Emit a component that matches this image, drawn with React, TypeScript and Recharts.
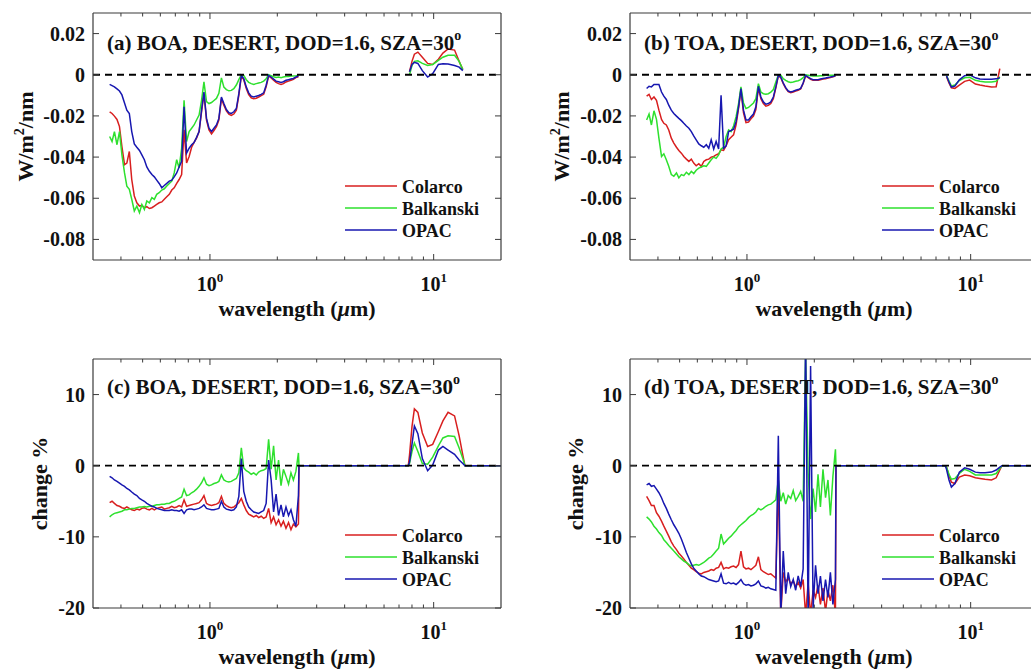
import { LineChart, Line, XAxis, YAxis, ReferenceLine, Legend } from "recharts";

const FONT = '"Liberation Serif", "Times New Roman", serif';
const AXIS_COLOR = "#3a3a3a";
const TEXT_COLOR = "#111";

// wavelength grid of the solar band (µm)
const WL_SOLAR = [
  0.356, 0.365, 0.374, 0.384, 0.394, 0.404, 0.415, 0.425, 0.436, 0.447,
  0.459, 0.471, 0.484, 0.496, 0.509, 0.522, 0.536, 0.55, 0.564, 0.578,
  0.593, 0.609, 0.625, 0.641, 0.658, 0.675, 0.692, 0.71, 0.728, 0.747,
  0.766, 0.786, 0.807, 0.828, 0.849, 0.871, 0.894, 0.917, 0.94, 0.965,
  0.99, 1.016, 1.042, 1.069, 1.096, 1.125, 1.154, 1.184, 1.215, 1.246,
  1.278, 1.312, 1.346, 1.381, 1.416, 1.453, 1.49, 1.529, 1.569, 1.61,
  1.651, 1.694, 1.738, 1.783, 1.829, 1.877, 1.925, 1.975, 2.026, 2.078,
  2.13, 2.187, 2.245, 2.302, 2.36, 2.422, 2.486,
];
// thermal window (µm)
const WL_IR = [7.8, 8.0, 8.2, 8.5, 8.9, 9.4, 9.9, 10.5, 11.0, 11.6, 12.4, 13.0, 13.5];
// change % panels sit on zero outside the two bands
const WL_FLAT = [2.5, 7.7, 13.8, 20];
const FLAT_ZERO = [0, 0, 0, 0];
// break between the bands in the flux panels
const WL_BREAK = 5;

// (a) BOA flux, W/m2/nm
const A_COLARCO = [
  -0.018, -0.0188, -0.0201, -0.0217, -0.0252, -0.0349, -0.0437, -0.0429, -0.0373, -0.0509,
  -0.0589, -0.0622, -0.0638, -0.0634, -0.0646, -0.0641, -0.065, -0.0646, -0.0638, -0.063,
  -0.0622, -0.0618, -0.0605, -0.0593, -0.0581, -0.056, -0.0549, -0.0528, -0.0509, -0.0485,
  -0.0268, -0.0429, -0.0397, -0.0352, -0.0329, -0.0308, -0.0276, -0.018, -0.0092, -0.022,
  -0.0268, -0.0287, -0.0271, -0.0252, -0.022, -0.0116, -0.0148, -0.0175, -0.0191, -0.0198,
  -0.0191, -0.0172, -0.01, -0.0006, -0.0024, -0.0067, -0.0096, -0.0112, -0.0117, -0.0114,
  -0.0108, -0.0101, -0.0095, -0.0059, -0.0006, -0.0016, -0.0027, -0.0037, -0.0043, -0.0047,
  -0.0043, -0.0035, -0.0031, -0.0027, -0.0022, -0.0014, -0.001,
];
const A_BALKANSKI = [
  -0.03, -0.0324, -0.0276, -0.034, -0.0276, -0.0389, -0.0477, -0.0541, -0.0557, -0.0605,
  -0.0662, -0.0638, -0.067, -0.063, -0.0654, -0.0613, -0.0622, -0.0597, -0.0605, -0.0581,
  -0.0573, -0.056, -0.0554, -0.0541, -0.0528, -0.0517, -0.0477, -0.0413, -0.0453, -0.0357,
  -0.0124, -0.0324, -0.0276, -0.026, -0.0244, -0.022, -0.0196, -0.0124, -0.0035, -0.013,
  -0.014, -0.0135, -0.0125, -0.0115, -0.009, -0.0015, -0.006, -0.0072, -0.0078, -0.0076,
  -0.0068, -0.005, -0.0024, 0, -0.0003, -0.0024, -0.0037, -0.0043, -0.0047, -0.0043,
  -0.004, -0.0037, -0.0031, -0.0019, 0, -0.0005, -0.001, -0.0013, -0.0011, -0.0014,
  -0.0011, -0.0008, -0.0008, -0.0006, -0.0006, -0.0005, -0.0003,
];
const A_OPAC = [
  -0.0047, -0.0053, -0.0059, -0.0069, -0.0079, -0.0098, -0.0137, -0.0172, -0.0188, -0.0276,
  -0.0336, -0.0352, -0.0368, -0.0389, -0.0413, -0.0448, -0.0469, -0.0485, -0.0496, -0.0512,
  -0.0528, -0.0549, -0.0538, -0.0528, -0.0517, -0.0512, -0.0496, -0.0477, -0.0448, -0.0421,
  -0.0156, -0.0381, -0.0357, -0.034, -0.0329, -0.0304, -0.0276, -0.0172, -0.0084, -0.0212,
  -0.026, -0.0276, -0.026, -0.0244, -0.0212, -0.0108, -0.014, -0.0169, -0.0185, -0.0188,
  -0.018, -0.0164, -0.0092, -0.0003, -0.0019, -0.0059, -0.0088, -0.0104, -0.0108, -0.0104,
  -0.0101, -0.0095, -0.0088, -0.0051, -0.0003, -0.0011, -0.0021, -0.0031, -0.0034, -0.0037,
  -0.0034, -0.0027, -0.0024, -0.0021, -0.0018, -0.0011, -0.0006,
];
const A_COLARCO_IR = [0.0015, 0.0065, 0.01, 0.011, 0.0085, 0.0055, 0.005, 0.0075, 0.0105, 0.0125, 0.012, 0.0065, 0.0025];
const A_BALKANSKI_IR = [0, 0.0045, 0.0065, 0.0068, 0.0055, 0.0045, 0.005, 0.007, 0.0085, 0.0095, 0.0095, 0.0065, 0.0025];
const A_OPAC_IR = [0.0015, 0.005, 0.006, 0.0055, 0.002, -0.0011, 0.0005, 0.005, 0.0053, 0.0052, 0.0045, 0.0037, 0.002];

// (b) TOA flux, W/m2/nm
const B_COLARCO = [
  -0.0104, -0.0095, -0.012, -0.0108, -0.0124, -0.0172, -0.0217, -0.0236, -0.0244, -0.0268,
  -0.0308, -0.0332, -0.0352, -0.0368, -0.0381, -0.0397, -0.041, -0.0421, -0.041, -0.0429,
  -0.0442, -0.0432, -0.0445, -0.0421, -0.0413, -0.041, -0.04, -0.0397, -0.0389, -0.0384,
  -0.0365, -0.0368, -0.0345, -0.0316, -0.0304, -0.0292, -0.0244, -0.0164, -0.0075, -0.0185,
  -0.0233, -0.023, -0.0214, -0.0201, -0.0169, -0.0063, -0.0116, -0.014, -0.0153, -0.0149,
  -0.014, -0.0116, -0.0063, -0.0005, -0.0014, -0.0043, -0.0066, -0.0082, -0.0087, -0.0084,
  -0.0079, -0.0075, -0.0069, -0.0043, -0.0005, -0.0014, -0.0022, -0.0027, -0.0027, -0.0027,
  -0.0024, -0.0021, -0.0019, -0.0016, -0.0013, -0.001, -0.0006,
];
const B_BALKANSKI = [
  -0.022, -0.0191, -0.0244, -0.0175, -0.0217, -0.0308, -0.0397, -0.0384, -0.0413, -0.0445,
  -0.0485, -0.0493, -0.0477, -0.0501, -0.0485, -0.049, -0.0474, -0.0485, -0.0469, -0.048,
  -0.0464, -0.0454, -0.0448, -0.0442, -0.0445, -0.0429, -0.0413, -0.04, -0.0406, -0.0389,
  -0.0361, -0.0352, -0.03, -0.0268, -0.0276, -0.0249, -0.0204, -0.014, -0.0059, -0.0137,
  -0.0164, -0.0159, -0.0148, -0.0137, -0.0116, -0.0043, -0.0084, -0.0092, -0.0095, -0.0092,
  -0.0085, -0.0072, -0.0035, 0, -0.0002, -0.0019, -0.0027, -0.0034, -0.0037, -0.0035,
  -0.0032, -0.0029, -0.0024, -0.0014, 0, -0.0002, -0.0005, -0.0006, -0.0006, -0.0006,
  -0.0005, -0.0005, -0.0003, -0.0003, -0.0003, -0.0002, -0.0002,
];
const B_OPAC = [
  -0.0067, -0.0056, -0.0059, -0.0047, -0.0047, -0.0047, -0.0084, -0.0104, -0.012, -0.0148,
  -0.0172, -0.0188, -0.0201, -0.0212, -0.0223, -0.0236, -0.0249, -0.026, -0.0276, -0.0297,
  -0.0316, -0.0336, -0.0345, -0.0352, -0.034, -0.0357, -0.0316, -0.0361, -0.0324, -0.0361,
  -0.01, -0.0357, -0.0345, -0.0276, -0.0271, -0.0265, -0.0228, -0.0156, -0.0067, -0.0172,
  -0.022, -0.022, -0.0204, -0.0191, -0.0156, -0.0056, -0.0108, -0.0132, -0.0143, -0.014,
  -0.0132, -0.0108, -0.0059, -0.0003, -0.0011, -0.004, -0.0063, -0.0079, -0.0084, -0.008,
  -0.0075, -0.0072, -0.0066, -0.004, -0.0003, -0.0011, -0.0019, -0.0024, -0.0024, -0.0024,
  -0.0021, -0.0018, -0.0016, -0.0013, -0.0011, -0.0008, -0.0005,
];
const B_COLARCO_IR = [-0.001, -0.004, -0.0063, -0.0066, -0.005, -0.0032, -0.0026, -0.0045, -0.005, -0.0055, -0.006, -0.0058, 0.003];
const B_BALKANSKI_IR = [-0.0005, -0.003, -0.0055, -0.005, -0.0028, -0.0015, -0.0012, -0.0027, -0.0032, -0.0035, -0.0035, -0.0032, -0.001];
const B_OPAC_IR = [-0.0005, -0.0035, -0.006, -0.0055, -0.0025, -0.0005, 0, -0.0015, -0.0021, -0.0022, -0.0022, -0.002, -0.0015];

// (c) BOA change, %
const C_COLARCO = [
  -5.2, -5.0, -5.3, -5.6, -5.7, -5.9, -6.0, -5.8, -6.0, -6.2,
  -6.3, -6.1, -6.2, -6.0, -5.9, -6.1, -6.2, -6.0, -6.2, -6.0,
  -5.9, -5.8, -6.1, -6.0, -5.9, -5.7, -5.9, -5.8, -5.6, -5.8,
  -4.8, -5.7, -5.6, -5.5, -5.4, -5.3, -5.2, -4.8, -4.2, -5.3,
  -5.5, -5.6, -5.5, -5.4, -5.2, -4.3, -5.3, -5.6, -5.8, -5.9,
  -5.8, -5.5, -5.2, -4.6, -5.5, -6.3, -6.8, -7.0, -7.2, -7.0,
  -7.3, -7.1, -7.4, -7.2, -6.0, -8.0, -7.2, -8.3, -7.6, -8.5,
  -7.8, -8.8, -8.0, -9.0, -8.2, -8.6, -8.2,
];
const C_BALKANSKI = [
  -7.2, -6.9, -6.7, -6.6, -6.5, -6.4, -6.2, -6.2, -6.1, -6.0,
  -6.0, -5.9, -5.8, -5.8, -5.75, -5.8, -5.7, -5.7, -5.6, -5.5,
  -5.5, -5.4, -5.4, -5.3, -5.3, -5.1, -5.0, -4.8, -4.6, -4.4,
  -3.3, -4.2, -4.1, -3.8, -3.6, -3.3, -2.9, -2.4, -1.7, -2.6,
  -2.8, -2.7, -2.5, -2.4, -2.2, -1.3, -2.0, -2.2, -2.3, -2.2,
  -2.0, -1.8, -1.0, 2.5, -0.3, -0.7, -0.9, -1.2, -1.0, -1.3,
  -0.9, -0.7, -0.6, -0.4, 3.7, -0.5, 2.8, -2.0, 0.8, -2.8,
  -0.5, -1.5, -2.6, -1.0, -2.0, -0.8, 1.8,
];
const C_OPAC = [
  -1.5, -1.7, -2.0, -2.2, -2.45, -2.7, -2.9, -3.2, -3.4, -3.7,
  -4.0, -4.2, -4.6, -4.8, -5.0, -5.3, -5.5, -5.7, -5.8, -6.0,
  -6.1, -6.2, -6.3, -6.3, -6.3, -6.2, -6.3, -6.3, -6.4, -6.2,
  -6.7, -6.2, -6.1, -6.1, -6.2, -6.1, -6.0, -5.8, -5.5, -6.0,
  -6.1, -6.2, -6.2, -6.1, -6.0, -5.0, -5.8, -6.1, -6.2, -6.3,
  -6.2, -5.8, -4.3, 1.0, -3.6, -5.0, -5.8, -6.2, -6.5, -6.6,
  -6.7, -6.5, -6.3, -5.3, 0.8, -2.0, -6.5, -4.0, -7.0, -5.5,
  -7.2, -5.8, -7.0, -6.2, -7.6, -8.5, -4.2,
];
const C_COLARCO_IR = [1.5, 5.5, 8.0, 7.5, 4.6, 2.7, 3.0, 4.8, 6.3, 7.5, 7.0, 4.2, 1.5];
const C_BALKANSKI_IR = [0.3, 2.0, 3.2, 2.0, 0.3, 0.2, 1.2, 2.8, 3.9, 4.2, 4.1, 2.5, 1.0];
const C_OPAC_IR = [0.5, 3.0, 5.6, 4.5, 1.0, -0.7, 0.1, 2.2, 2.7, 2.2, 1.6, 0.8, 0.3];

// (d) TOA change, %
const D_COLARCO = [
  -4.3, -4.9, -5.6, -5.6, -6.6, -7.1, -7.8, -8.5, -9.2, -9.9,
  -10.7, -11.3, -11.8, -12.3, -12.7, -13.1, -13.6, -14.0, -14.4, -14.6,
  -14.9, -15.1, -15.2, -15.0, -14.9, -14.8, -14.6, -14.7, -14.4, -14.3,
  -13.6, -14.5, -14.3, -14.4, -14.2, -14.1, -14.3, -13.9, -12.0, -14.2,
  -14.5, -14.4, -14.6, -14.3, -14.0, -12.8, -14.6, -14.9, -15.1, -15.3,
  -15.2, -15.5, -15.8, -2.0, -21.0, -15.0, -16.3, -15.8, -16.6, -16.2,
  -17.0, -16.4, -17.2, -16.0, -21.0, -16.5, -21.0, -17.5, -18.5, -16.8,
  -19.5, -17.2, -20.5, -17.5, -19.0, -16.8, -21.0,
];
const D_BALKANSKI = [
  -7.2, -7.5, -7.9, -8.5, -8.9, -9.4, -9.8, -10.4, -10.8, -11.2,
  -11.6, -12.0, -12.4, -12.8, -13.1, -13.4, -13.6, -13.9, -14.1, -14.0,
  -13.9, -14.0, -13.8, -13.6, -13.3, -13.0, -12.8, -12.4, -12.0, -11.6,
  -9.6, -11.0, -10.6, -10.2, -9.9, -9.5, -9.1, -8.6, -8.3, -8.0,
  -7.7, -7.3, -7.0, -6.8, -6.5, -6.0, -6.2, -6.0, -5.7, -5.5,
  -5.4, -5.1, -4.8, -2.0, -5.0, -3.8, -5.4, -4.2, -4.6, -3.5,
  -4.9, -4.3, -3.6, -5.0, 16.0, -1.0, -7.5, -3.2, -6.5, -1.2,
  -5.8, -0.5, -4.5, -2.0, -7.0, -1.5, 2.3,
];
const D_OPAC = [
  -2.7, -2.5, -2.9, -2.8, -3.3, -3.8, -4.5, -5.3, -6.0, -6.8,
  -7.6, -8.3, -8.9, -9.5, -10.3, -11.2, -12.2, -13.0, -13.8, -14.4,
  -14.8, -15.2, -15.5, -15.6, -15.8, -16.0, -16.1, -16.2, -16.3, -16.2,
  -15.2, -16.5, -16.6, -16.4, -16.6, -16.5, -16.7, -16.4, -16.0, -16.6,
  -16.8, -16.7, -16.9, -16.8, -16.6, -16.2, -16.9, -17.0, -17.2, -17.1,
  -17.3, -17.4, -17.5, 4.2, -21.0, -12.0, -18.0, -15.0, -17.0, -16.0,
  -17.5, -15.5, -17.0, -14.5, 18.0, -22.0, 14.0, -20.0, -14.0, -18.0,
  -15.5, -19.0, -16.0, -18.5, -15.0, -19.5, -16.0,
];
const D_COLARCO_IR = [-0.2, -1.4, -2.3, -2.5, -1.6, -1.3, -1.4, -1.7, -1.8, -1.9, -2.0, -1.7, -0.6];
const D_BALKANSKI_IR = [-0.2, -1.2, -1.9, -1.8, -1.1, -0.5, -0.8, -1.3, -1.3, -1.3, -1.3, -1.1, -0.4];
const D_OPAC_IR = [-0.5, -2.0, -3.0, -2.5, -0.9, -0.3, -0.5, -0.9, -1.0, -1.0, -0.9, -0.6, -0.2];

// axes
const X_DOMAIN = [0.3, 20];
const X_MAJOR = [1, 10];
const X_MAJOR_EXP = ["0", "1"];
const X_TICKS = [0.4, 0.5, 0.6, 0.7, 0.8, 0.9, 1, 2, 3, 4, 5, 6, 7, 8, 9, 10];
const Y_TICKS_FLUX = [-0.08, -0.06, -0.04, -0.02, 0, 0.02];
const Y_LABELS_FLUX = ["-0.08", "-0.06", "-0.04", "-0.02", "0", "0.02"];
const Y_TICKS_PCT = [-20, -10, 0, 10];
const Y_LABELS_PCT = ["-20", "-10", "0", "10"];

const SERIES = [
  { key: "c", name: "Colarco", color: "#d81f1f" },
  { key: "b", name: "Balkanski", color: "#2ee02e" },
  { key: "o", name: "OPAC", color: "#1717b0" },
];

const LEFT_W = 60;
const RIGHT_W = 6;
const TOP_H = 6;
const BOTTOM_H = 40;

function buildRows(sol: number[][], ir: number[][], flat: boolean) {
  const rows: any[] = WL_SOLAR.map((wl, i) => ({ wl, c: sol[0][i], b: sol[1][i], o: sol[2][i] }));
  WL_IR.forEach((wl, i) => rows.push({ wl, c: ir[0][i], b: ir[1][i], o: ir[2][i] }));
  if (flat) {
    WL_FLAT.forEach((wl, i) => rows.push({ wl, c: FLAT_ZERO[i], b: FLAT_ZERO[i], o: FLAT_ZERO[i] }));
  } else {
    rows.push({ wl: WL_BREAK, c: null, b: null, o: null });
  }
  return rows.sort((p, q) => p.wl - q.wl);
}

const PANELS = [
  {
    id: "a", left: 0, top: 0, width: 520, height: 330,
    plot: { left: 93, top: 13, right: 501, bottom: 260 },
    sol: [A_COLARCO, A_BALKANSKI, A_OPAC], ir: [A_COLARCO_IR, A_BALKANSKI_IR, A_OPAC_IR],
    flat: false, yDomain: [-0.09, 0.03], yTicks: Y_TICKS_FLUX, yLabels: Y_LABELS_FLUX,
    title: "(a) BOA, DESERT, DOD=1.6, SZA=30", titleY: 50, yLabelX: 33, legendTop: 175,
  },
  {
    id: "b", left: 515, top: 0, width: 540, height: 330,
    plot: { left: 115, top: 13, right: 523, bottom: 260 },
    sol: [B_COLARCO, B_BALKANSKI, B_OPAC], ir: [B_COLARCO_IR, B_BALKANSKI_IR, B_OPAC_IR],
    flat: false, yDomain: [-0.09, 0.03], yTicks: Y_TICKS_FLUX, yLabels: Y_LABELS_FLUX,
    title: "(b) TOA, DESERT, DOD=1.6, SZA=30", titleY: 50, yLabelX: 54, legendTop: 175,
  },
  {
    id: "c", left: 0, top: 330, width: 520, height: 340,
    plot: { left: 93, top: 29, right: 501, bottom: 278 },
    sol: [C_COLARCO, C_BALKANSKI, C_OPAC], ir: [C_COLARCO_IR, C_BALKANSKI_IR, C_OPAC_IR],
    flat: true, yDomain: [-20, 15], yTicks: Y_TICKS_PCT, yLabels: Y_LABELS_PCT,
    title: "(c) BOA, DESERT, DOD=1.6, SZA=30", titleY: 64, yLabelX: 47, legendTop: 194,
  },
  {
    id: "d", left: 515, top: 330, width: 540, height: 340,
    plot: { left: 115, top: 29, right: 523, bottom: 278 },
    sol: [D_COLARCO, D_BALKANSKI, D_OPAC], ir: [D_COLARCO_IR, D_BALKANSKI_IR, D_OPAC_IR],
    flat: true, yDomain: [-20, 15], yTicks: Y_TICKS_PCT, yLabels: Y_LABELS_PCT,
    title: "(d) TOA, DESERT, DOD=1.6, SZA=30", titleY: 64, yLabelX: 68, legendTop: 194,
  },
];

const BottomTick = (props: any) => {
  const { x, y, payload } = props;
  const mi = X_MAJOR.indexOf(payload.value);
  return (
    <g>
      <line x1={x} x2={x} y1={y} y2={y - (mi >= 0 ? 6 : 3.5)} stroke={AXIS_COLOR} />
      {mi >= 0 && (
        <text x={x} y={y + 31} textAnchor="middle" fontFamily={FONT} fontSize={20} fontWeight="bold" fill={TEXT_COLOR}>
          10<tspan dy={-9} fontSize={13}>{X_MAJOR_EXP[mi]}</tspan>
        </text>
      )}
    </g>
  );
};

const TopTick = (props: any) => {
  const { x, y, payload } = props;
  const major = X_MAJOR.includes(payload.value);
  return <line x1={x} x2={x} y1={y} y2={y + (major ? 6 : 3.5)} stroke={AXIS_COLOR} />;
};

const LeftTick = (props: any) => {
  const { x, y, payload, ticks, labels } = props;
  const i = ticks.indexOf(payload.value);
  return (
    <g>
      <line x1={x} x2={x + 6} y1={y} y2={y} stroke={AXIS_COLOR} />
      <text x={x - 8} y={y + 7} textAnchor="end" fontFamily={FONT} fontSize={20} fontWeight="bold" fill={TEXT_COLOR}>
        {labels[i]}
      </text>
    </g>
  );
};

const RightTick = (props: any) => {
  const { x, y } = props;
  return <line x1={x} x2={x - 6} y1={y} y2={y} stroke={AXIS_COLOR} />;
};

// keeps the series order (Colarco, Balkanski, OPAC) instead of the sorted payload
function LegendBox({ payload }: any) {
  const items = SERIES.map((s) => (payload || []).find((e: any) => e.value === s.name) || { value: s.name, color: s.color });
  return (
    <svg width={170} height={70} style={{ display: "block", overflow: "visible" }}>
      {items.map((e: any, i: number) => (
        <g key={e.value}>
          <line x1={0} x2={52} y1={11 + 22 * i} y2={11 + 22 * i} stroke={e.color} strokeWidth={1.4} />
          <text x={57} y={18 + 22 * i} fontFamily={FONT} fontSize={18} fontWeight="bold" fill={TEXT_COLOR}>
            {e.value}
          </text>
        </g>
      ))}
    </svg>
  );
}

function Panel({ p }: { p: any }) {
  const rows = buildRows(p.sol, p.ir, p.flat);
  const { plot } = p;
  const margin = {
    top: plot.top - TOP_H,
    left: plot.left - LEFT_W,
    right: p.width - plot.right - RIGHT_W,
    bottom: p.height - plot.bottom - BOTTOM_H,
  };
  const cx = (plot.left + plot.right) / 2;
  const cy = (plot.top + plot.bottom) / 2;
  const axisLine = { stroke: AXIS_COLOR, strokeWidth: 1.2 };

  return (
    <div style={{ position: "absolute", left: p.left, top: p.top, width: p.width, height: p.height }}>
      <LineChart width={p.width} height={p.height} data={rows} margin={margin}>
        <XAxis
          xAxisId="bottom" dataKey="wl" type="number" scale="log" domain={X_DOMAIN}
          allowDataOverflow ticks={X_TICKS} interval={0} tickSize={0} tickMargin={0}
          tickLine={false} height={BOTTOM_H} axisLine={axisLine} tick={<BottomTick />}
        />
        <XAxis
          xAxisId="top" orientation="top" dataKey="wl" type="number" scale="log" domain={X_DOMAIN}
          allowDataOverflow ticks={X_TICKS} interval={0} tickSize={0} tickMargin={0}
          tickLine={false} height={TOP_H} axisLine={axisLine} tick={<TopTick />}
        />
        <YAxis
          yAxisId="left" type="number" domain={p.yDomain} allowDataOverflow ticks={p.yTicks}
          interval={0} tickSize={0} tickMargin={0} tickLine={false} width={LEFT_W}
          axisLine={axisLine} tick={<LeftTick ticks={p.yTicks} labels={p.yLabels} />}
        />
        <YAxis
          yAxisId="right" orientation="right" type="number" domain={p.yDomain} allowDataOverflow
          ticks={p.yTicks} interval={0} tickSize={0} tickMargin={0} tickLine={false}
          width={RIGHT_W} axisLine={axisLine} tick={<RightTick />}
        />
        {SERIES.map((s) => (
          <Line
            key={s.key} xAxisId="bottom" yAxisId="left" type="linear" dataKey={s.key} name={s.name}
            stroke={s.color} strokeWidth={1.5} dot={false} activeDot={false} isAnimationActive={false}
          />
        ))}
        <ReferenceLine xAxisId="bottom" yAxisId="left" y={0} stroke="#000" strokeWidth={1.8} strokeDasharray="7 5" />
        <Legend
          layout="vertical" align="center" verticalAlign="middle"
          wrapperStyle={{ left: plot.left + 252, top: p.legendTop, width: 170, height: 70 }}
          content={(props: any) => <LegendBox payload={props.payload} />}
        />
      </LineChart>
      <svg
        width={p.width} height={p.height}
        style={{ position: "absolute", left: 0, top: 0, pointerEvents: "none" }}
        fontFamily={FONT} fontWeight="bold" fill={TEXT_COLOR}
      >
        <text x={plot.left + 14} y={p.titleY} fontSize={21}>
          {p.title}
          <tspan dy={-10} fontSize={14}>o</tspan>
        </text>
        <text x={cx} y={plot.bottom + 56} fontSize={22} textAnchor="middle">
          wavelength (<tspan fontStyle="italic">μ</tspan>m)
        </text>
        <text transform={`translate(${p.yLabelX},${cy}) rotate(-90)`} textAnchor="middle" fontSize={22}>
          {p.flat ? (
            "change %"
          ) : (
            <>
              W/m<tspan dy={-9} fontSize={14}>2</tspan>
              <tspan dy={9}>/nm</tspan>
            </>
          )}
        </text>
      </svg>
    </div>
  );
}

export default function App() {
  return (
    <div
      style={{
        position: "absolute", left: 0, top: 0, width: 1031, height: 670,
        overflow: "hidden", background: "#fff", fontFamily: FONT,
      }}
    >
      {PANELS.map((p) => (
        <Panel key={p.id} p={p} />
      ))}
    </div>
  );
}
